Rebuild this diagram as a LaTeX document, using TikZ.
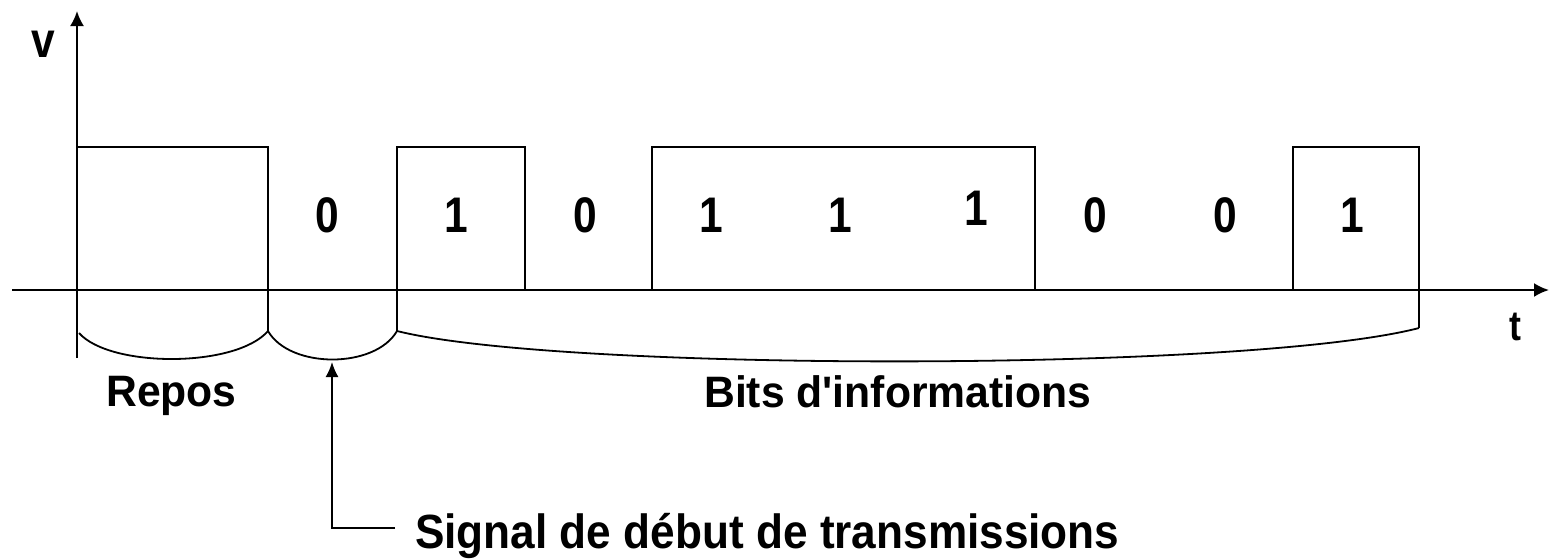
\documentclass[tikz,border=0pt]{standalone}
\usepackage{fontspec}
\setmainfont{Liberation Sans}
\newfontfamily\fdig[FakeStretch=0.85]{Liberation Sans}
\newfontfamily\flab[FakeStretch=0.97]{Liberation Sans}
\newfontfamily\fsig[FakeStretch=0.92]{Liberation Sans}
\usetikzlibrary{arrows.meta}
\begin{document}
\begin{tikzpicture}[x=1pt,y=-1pt,
  axis/.style={line width=2.2pt,-{Latex[length=15pt,width=14pt]}},
  sig/.style={line width=1.8pt},
  brace/.style={line width=1.8pt},
  digit/.style={anchor=base,inner sep=0pt,font=\fdig\bfseries\fontsize{50}{50}\selectfont},
  axlabel/.style={anchor=base,inner sep=0pt,font=\fdig\bfseries\fontsize{50}{50}\selectfont},
  lab/.style={anchor=base west,inner sep=0pt,font=\flab\bfseries\fontsize{44}{44}\selectfont},
  siglab/.style={anchor=base west,inner sep=0pt,font=\fsig\bfseries\fontsize{48}{48}\selectfont}]
\useasboundingbox (0,0) rectangle (1550,558);
% axes
\coordinate (xs) at (12,290);
\coordinate (xe) at (1549,290);
\coordinate (ys) at (77,358);
\coordinate (ye) at (77,11);
\draw[axis] (xs) -- (xe);
\draw[axis] (ys) -- (ye);
\node[axlabel] (v) at (43,57) {v};
\node[axlabel,font=\fdig\bfseries\fontsize{42}{42}\selectfont] (t) at (1515,340) {t};
% signal
\draw[sig] (77,147) -- (268,147) -- (268,331);
\draw[sig] (397,331) -- (397,147) -- (525,147) -- (525,290);
\draw[sig] (652,290) -- (652,147) -- (1035,147) -- (1035,290);
\draw[sig] (1293,290) -- (1293,147) -- (1419,147) -- (1419,328);
% braces
\coordinate (b0) at (79,333);
\coordinate (b1) at (268,331);
\coordinate (b2) at (397,331);
\coordinate (b3) at (1419,328);
\draw[brace] (b0) .. controls (110,368) and (236,368) .. (b1);
\draw[brace] (b1) .. controls (290,369) and (375,369) .. (b2);
\draw[brace] (b2) .. controls (560,372) and (1250,372) .. (b3);
% digits
\node[digit] (d1) at (327,232) {0};
\node[digit] (d2) at (456,232) {1};
\node[digit] (d3) at (585,232) {0};
\node[digit] (d4) at (711,232) {1};
\node[digit] (d5) at (840,232) {1};
\node[digit] (d6) at (976,225) {1};
\node[digit] (d7) at (1095,232) {0};
\node[digit] (d8) at (1225,232) {0};
\node[digit] (d9) at (1352,232) {1};
% labels
\node[lab] (repos) at (106,406) {Repos};
\node[lab] (bits) at (704,407) {Bits d'informations};
\node[siglab] (signal) at (415,548) {Signal de début de transmissions};
\coordinate (tip) at (332,362);
\coordinate (corner) at (332,528);
\draw[line width=1.8pt,-{Latex[length=15pt,width=13pt]}] (395,528) -- (corner) -- (tip);
\end{tikzpicture}
\end{document}
